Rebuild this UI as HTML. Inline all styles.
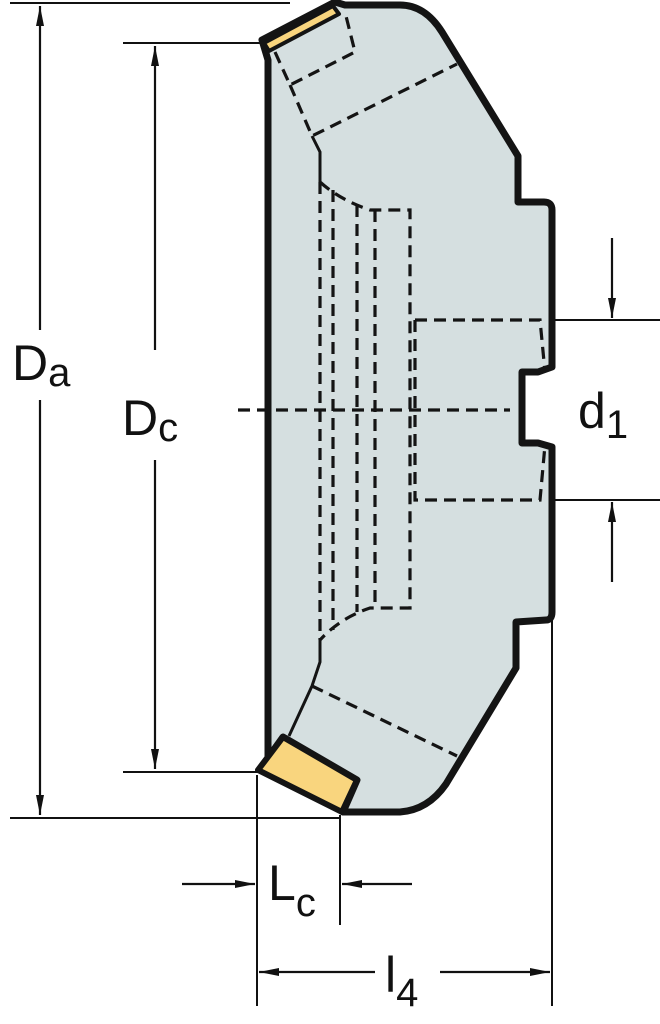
<!DOCTYPE html>
<html><head><style>body{margin:0;background:#fff}svg{display:block}</style></head><body>
<svg width="660" height="1024" viewBox="0 0 660 1024" xmlns="http://www.w3.org/2000/svg" font-family="Liberation Sans, sans-serif">
<defs>
<marker id="b" viewBox="0 0 10 10" refX="10" refY="5" markerWidth="20" markerHeight="20" markerUnits="userSpaceOnUse" orient="auto"><path d="M0,3 L10,5 L0,7 z" fill="#111"/></marker></defs>
<g stroke="#111" stroke-width="2" fill="none">
<line x1="10" y1="3" x2="290" y2="3"/><line x1="10" y1="818" x2="340" y2="818"/>
<line x1="123" y1="43" x2="262" y2="43"/><line x1="123" y1="772" x2="258" y2="772"/>
<line x1="540" y1="320" x2="660" y2="320"/><line x1="540" y1="500" x2="660" y2="500"/>
<line x1="257" y1="775" x2="257" y2="1006"/><line x1="340" y1="815" x2="340" y2="925"/>
<line x1="552" y1="620" x2="552" y2="1006"/>
</g>
<path d="M268,60 L268,758 L283,737 L357,780 L343,812 L400,812 Q428,810 446,784 L516,668 L516,622 L546,620 Q552,620 552,612 L552,447 L538,443 L522,443 L522,372 L538,372 L552,367 L552,210 Q552,202 544,202 L518,202 L518,156 L442,32 Q425,5 400,5 L345,5 L335,2 L262,40 Z" fill="#d5dfe0" stroke="#141414" stroke-width="7" stroke-linejoin="round"/>
<path d="M264,43 L333,6 L339,14 L269,51 Z" fill="#f9d57e" stroke="#141414" stroke-width="4" stroke-linejoin="round"/>
<path d="M283,737 L357,780 L342,812 L258,770 Z" fill="#f9d57e" stroke="#141414" stroke-width="6" stroke-linejoin="round"/>
<g stroke="#141414" stroke-width="3" fill="none">
<path d="M289,736 L312,686 L320,662 L320,640"/>
<path d="M312,136 L320,152 L320,182"/>
</g>
<g stroke="#141414" stroke-width="3.2" fill="none" stroke-dasharray="12,7">
<path d="M275,52 L290,85 L355,52 L345,12"/>
<path d="M290,85 L312,136 L457,64"/>
<path d="M312,686 L457,756"/>
<path d="M320,182 Q340,200 370,210 L410,210 L410,608 L370,608 Q340,618 320,640"/>
<path d="M320,182 L320,640 M333,190 L333,630 M357,205 L357,612 M375,210 L375,608"/>
<path d="M415,320 L540,320 L545,372 M415,320 L415,500 L540,500 L545,445"/>
<path d="M238,410 L510,410"/>
</g>
<g stroke="#111" stroke-width="2.2" fill="none">
<line x1="40" y1="330" x2="40" y2="6" marker-end="url(#b)"/><line x1="40" y1="400" x2="40" y2="815" marker-end="url(#b)"/>
<line x1="155" y1="350" x2="155" y2="46" marker-end="url(#b)"/><line x1="155" y1="460" x2="155" y2="769" marker-end="url(#b)"/>
<line x1="612" y1="238" x2="612" y2="318" marker-end="url(#b)"/><line x1="612" y1="582" x2="612" y2="502" marker-end="url(#b)"/>
<line x1="182" y1="884" x2="255" y2="884" marker-end="url(#b)"/><line x1="412" y1="884" x2="342" y2="884" marker-end="url(#b)"/>
<line x1="375" y1="972" x2="259" y2="972" marker-end="url(#b)"/><line x1="440" y1="972" x2="550" y2="972" marker-end="url(#b)"/>
</g>
<rect x="8" y="335" width="60" height="60" fill="#fff"/>
<g fill="#111">
<text x="12" y="380" font-size="50">D<tspan font-size="40" dy="6">a</tspan></text>
<text x="122" y="435" font-size="50">D<tspan font-size="40" dy="6">c</tspan></text>
<text x="578" y="428" font-size="50">d<tspan font-size="40" dy="10">1</tspan></text>
<text x="268" y="900" font-size="50">L<tspan font-size="40" dy="16">c</tspan></text>
<text x="385" y="992" font-size="50">l<tspan font-size="40" dy="14">4</tspan></text>
</g>
</svg>
</body></html>
